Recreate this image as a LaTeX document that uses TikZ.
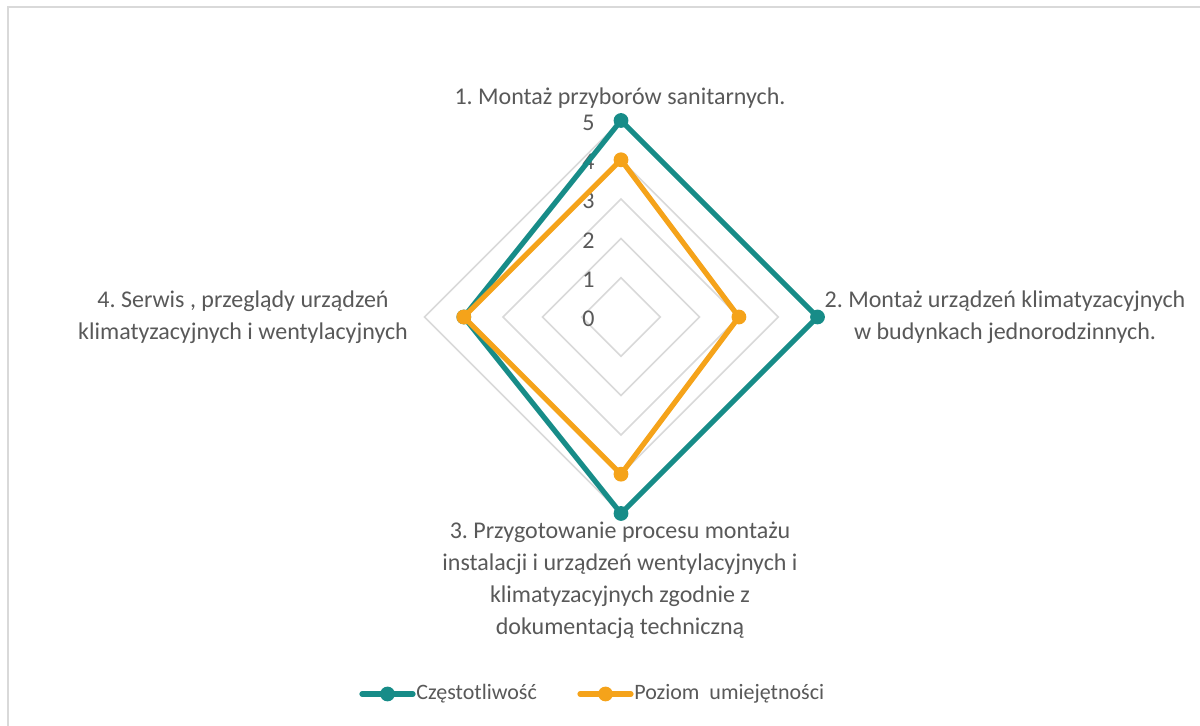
\documentclass[tikz,border=0pt]{standalone}
\usepackage{fontspec}
\setmainfont{Carlito}
\definecolor{cteal}{HTML}{178C88}
\definecolor{corange}{HTML}{F5A31A}
\definecolor{ctext}{HTML}{595959}
\definecolor{cgrid}{HTML}{D9D9D9}
\frenchspacing
\begin{document}
\begin{tikzpicture}[x=0.5pt,y=-0.5pt,
  gridline/.style={draw=cgrid,line width=0.8pt,line join=miter},
  series/.style={line width=2.6pt,line join=round,line cap=round},
  ticklab/.style={text=ctext,font=\fontsize{12}{14}\selectfont,inner sep=0pt,anchor=east},
  catlab/.style={text=ctext,font=\fontsize{12}{16}\selectfont,align=center,inner sep=0pt},
  leglab/.style={text=ctext,font=\fontsize{11}{13}\selectfont,inner sep=0pt,anchor=west}]
\useasboundingbox (0,0) rectangle (1200,726);
\fill[white] (0,0) rectangle (1200,726);
\draw[cgrid,line width=1pt] (7.5,726) -- (7.5,7.5) -- (1200,7.5);
% grid
\foreach \k in {1,...,5}{
  \draw[gridline] (621,{317-\k*39.3}) -- ({621+\k*39.3},317) -- (621,{317+\k*39.3}) -- ({621-\k*39.3},317) -- cycle;
}
% tick labels
\foreach \k in {0,...,5}{
  \node[ticklab] (t\k) at (595,{319-\k*39.3}) {\k};
}
% series points
\coordinate (a1) at (621,120.5);
\coordinate (a2) at (817.5,317);
\coordinate (a3) at (621,513.5);
\coordinate (a4) at (463.8,317);
\coordinate (b1) at (621,159.8);
\coordinate (b2) at (738.9,317);
\coordinate (b3) at (621,474.2);
\coordinate (b4) at (463.8,317);
\draw[series,cteal] (a1) -- (a2) -- (a3) -- (a4) -- cycle;
\foreach \p in {a1,a2,a3,a4} \fill[cteal] (\p) circle (3.7pt);
\draw[series,corange] (b1) -- (b2) -- (b3) -- (b4) -- cycle;
\foreach \p in {b1,b2,b3,b4} \fill[corange] (\p) circle (3.7pt);
% category labels
\node[catlab] (c1) at (620,98) {1. Montaż przyborów sanitarnych.};
\node[catlab] (c2) at (1005,317) {2. Montaż urządzeń klimatyzacyjnych\\w budynkach jednorodzinnych.};
\node[catlab] (c3) at (620,580) {3. Przygotowanie procesu montażu\\instalacji i urządzeń wentylacyjnych i\\klimatyzacyjnych zgodnie z\\dokumentacją techniczną};
\node[catlab] (c4) at (243,317) {4. Serwis , przeglądy urządzeń\\klimatyzacyjnych i wentylacyjnych};
% legend
\coordinate (l1a) at (362,694);
\coordinate (l1b) at (413,694);
\coordinate (l1m) at (387.5,694);
\draw[series,cteal] (l1a) -- (l1b);
\fill[cteal] (l1m) circle (3.7pt);
\node[leglab] (lt1) at (416,694) {Częstotliwość};
\coordinate (l2a) at (580,694);
\coordinate (l2b) at (631,694);
\coordinate (l2m) at (605.5,694);
\draw[series,corange] (l2a) -- (l2b);
\fill[corange] (l2m) circle (3.7pt);
\node[leglab] (lt2) at (634,694) {Poziom\ \ umiejętności};
\end{tikzpicture}
\end{document}
